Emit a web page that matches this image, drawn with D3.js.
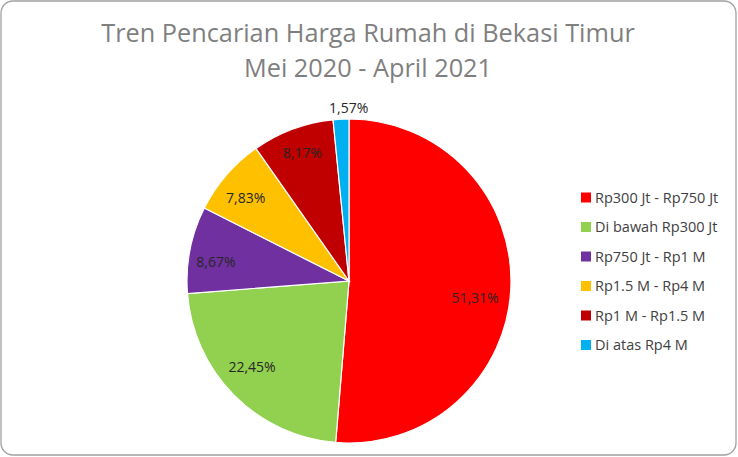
<!DOCTYPE html>
<html><head><meta charset="utf-8">
<script src="https://cdn.jsdelivr.net/npm/d3@7"></script>
<style>body{margin:0;background:#fff}svg{display:block}</style>
</head><body><svg id="c" width="738" height="457"></svg>
<script>
const categories = ["Rp300 Jt - Rp750 Jt","Di bawah Rp300 Jt","Rp750 Jt - Rp1 M","Rp1.5 M - Rp4 M","Rp1 M - Rp1.5 M","Di atas Rp4 M"];
const values = [51.31, 22.45, 8.67, 7.83, 8.17, 1.57];
const labels = ["51,31%","22,45%","8,67%","7,83%","8,17%","1,57%"];
const colors = ["#FF0000","#92D050","#7030A0","#FFC000","#C00000","#00B0F0"];
const titleLines = ["Tren Pencarian Harga Rumah di Bekasi Timur","Mei 2020 - April 2021"];
// label placement (layout only): radius as fraction of pie radius, angle shift in degrees
const labelRadius = [0.785, 0.80, 0.83, 0.82, 0.84, 1.07];
const labelShift = [5.3, 3.3, -3.0, -1.9, 0.3, 2.7];

const svg = d3.select("#c");
const font = "'Open Sans', Calibri, sans-serif";
svg.append("rect").attr("x",1).attr("y",1).attr("width",735).attr("height",454)
  .attr("rx",12).attr("fill","#fff").attr("stroke","#a0a0a0").attr("stroke-width",1.3);

svg.selectAll("text.title").data(titleLines).join("text").attr("class","title")
  .attr("x",368).attr("y",(d,i)=>42+i*35).attr("text-anchor","middle")
  .attr("font-family",font).attr("font-size",25.3).attr("fill","#7f7f7f").text(d=>d);

const cx=349, cy=281, R=162;
const data = categories.map((c,i)=>({c, v:values[i], l:labels[i], col:colors[i], lr:labelRadius[i], ls:labelShift[i]}));
const pie = d3.pie().sort(null).value(d=>d.v);
const arcs = pie(data);
const arc = d3.arc().innerRadius(0).outerRadius(R);
const g = svg.append("g").attr("transform",`translate(${cx},${cy})`);
g.selectAll("path").data(arcs).join("path").attr("d",arc)
  .attr("fill",d=>d.data.col).attr("stroke","#fff").attr("stroke-width",1.2);

function labelPos(d){
  const a = (d.startAngle+d.endAngle)/2 + d.data.ls*Math.PI/180;
  const r = R*d.data.lr;
  return [r*Math.sin(a), -r*Math.cos(a)];
}
g.selectAll("text").data(arcs).join("text")
  .attr("transform",d=>`translate(${labelPos(d)})`)
  .attr("text-anchor","middle").attr("dy","0.36em")
  .attr("font-family",font).attr("font-size",14).attr("fill","#262626")
  .text(d=>d.data.l);

const leg = svg.append("g").attr("transform","translate(581,197.5)");
const rows = leg.selectAll("g").data(data).join("g").attr("transform",(d,i)=>`translate(0,${i*29.5})`);
rows.append("rect").attr("x",0).attr("y",-5).attr("width",10).attr("height",10).attr("fill",d=>d.col);
rows.append("text").attr("x",14).attr("dy","0.36em").attr("font-family",font).attr("font-size",14.5)
  .attr("fill","#404040").text(d=>d.c);
</script></body></html>
